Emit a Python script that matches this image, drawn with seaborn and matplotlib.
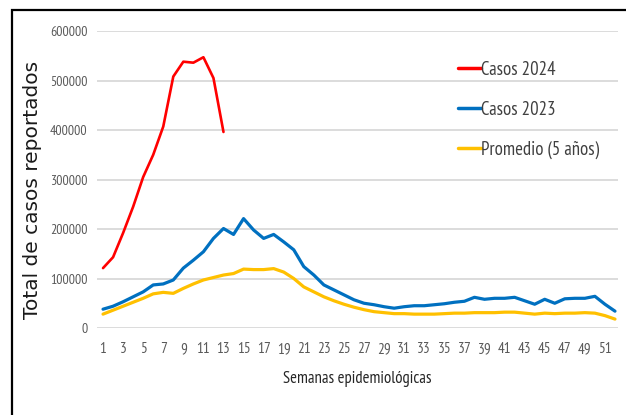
import numpy as np
import pandas as pd
import matplotlib
matplotlib.use("Agg")
import matplotlib.pyplot as plt
from matplotlib.patches import Rectangle
import seaborn as sns

# Datos (casos semanales)
semanas = list(range(1, 53))
casos_2024 = [121000, 143000, 192000, 245000, 305000, 350000, 407000, 508000, 538000, 536000,
              547000, 505000, 396000]
casos_2023 = [38000, 44000, 53000, 63000, 73000, 87000, 89000, 97000, 121000, 137000,
              154000, 181000, 201000, 189000, 221000, 198000, 181000, 189000, 174000, 158000,
              124000, 107000, 87000, 77000, 67000, 57000, 50000, 47000, 43000, 40000,
              43000, 45000, 45000, 47000, 49000, 52000, 54000, 62000, 58000, 60000,
              60000, 62000, 55000, 48000, 58000, 50000, 59000, 60000, 60000, 64000,
              48000, 34000]
promedio_5 = [28000, 36000, 44000, 52000, 60000, 69000, 72000, 70000, 80000, 89000,
              97000, 102000, 107000, 110000, 119000, 118000, 118000, 120000, 113000, 100000,
              83000, 73000, 63000, 55000, 48000, 42000, 37000, 33000, 31000, 29000,
              29000, 28000, 28000, 28000, 29000, 30000, 30000, 31000, 31000, 31000,
              32000, 32000, 30000, 28000, 30000, 29000, 30000, 30000, 31000, 30000,
              25000, 18000]
series = ["Casos 2024", "Casos 2023", "Promedio (5 años)"]
colores = ["#FF0000", "#0070C0", "#FFC000"]

df = pd.concat([
    pd.DataFrame({"semana": semanas[:len(casos_2024)], "casos": casos_2024, "serie": series[0]}),
    pd.DataFrame({"semana": semanas, "casos": casos_2023, "serie": series[1]}),
    pd.DataFrame({"semana": semanas, "casos": promedio_5, "serie": series[2]}),
])

sns.set_theme(style="white")
plt.rcParams["font.family"] = ["PT Sans Narrow", "Roboto Condensed", "DejaVu Sans"]

fig = plt.figure(figsize=(6.26, 4.15), dpi=100)
ax = fig.add_axes([97 / 626, 1 - 328 / 415, 521 / 626, 297 / 415])

sns.lineplot(data=df, x="semana", y="casos", hue="serie", hue_order=series,
             palette=colores, linewidth=2.3, ax=ax, legend=True,
             solid_joinstyle="round", solid_capstyle="round")
for ln, lw in zip(ax.lines, [1.9, 2.3, 2.3]):
    ln.set_linewidth(lw)

ax.set_xlim(0.4, 52.3)
ax.set_ylim(0, 600000)
ax.set_xticks(range(1, 52, 2))
ax.set_yticks(range(0, 600001, 100000))
ax.yaxis.grid(True, color="#D9D9D9", linewidth=1.3)
ax.xaxis.grid(False)
for s in ax.spines.values():
    s.set_visible(False)
ax.tick_params(axis="both", length=0, colors="#595959")
ax.tick_params(axis="y", labelsize=10, pad=7)
ax.tick_params(axis="x", labelsize=11, pad=10)

ax.set_xlabel("Semanas epidemiológicas", fontsize=12, color="#262626", labelpad=11)
ax.set_ylabel("Total de casos reportados", fontsize=14.5, color="#1a1a1a",
              family=["DejaVu Sans"])
ax.yaxis.set_label_coords(-0.106, 0.466)

ax.legend(loc="upper left", bbox_to_anchor=(0.693, 0.9), frameon=False,
          borderpad=0, borderaxespad=0, fontsize=13.5, labelspacing=1.18,
          handlelength=1.2, handletextpad=0.05, labelcolor="#404040")
for h in ax.get_legend().get_lines():
    h.set_linewidth(2.5)

fig.add_artist(Rectangle((12 / 626, -0.1), 1.2, 1 - 10 / 415 + 0.1,
                         transform=fig.transFigure, fill=False,
                         edgecolor="black", linewidth=1.6))

fig.savefig("out.png", dpi=100)
